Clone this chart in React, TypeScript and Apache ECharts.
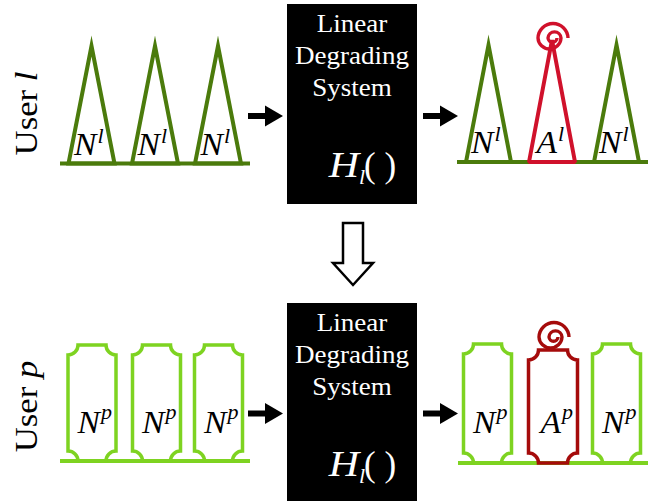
import React, { useEffect, useRef } from "react";
import * as echarts from "echarts";

// ---- content (labels) ----
const userNames = ["l", "p"];
const boxLines = ["Linear", "Degrading", "System"];
const inputMain = ["N", "N", "N"];
const outputMain = ["N", "A", "N"];
const outputAnomaly = [false, true, false];

// ---- layout constants ----
const W = 658;
const H = 501;
const SERIF = "'Liberation Serif', 'Times New Roman', serif";
const DARK_GREEN = "#4b7b0c";
const LIGHT_GREEN = "#7ed321";
const RED = "#d0112b";
const DARK_RED = "#a50b0b";

const topInCenters = [91.5, 155, 218];
const topOutCenters = [488.5, 552, 616.5];
const botInCenters = [92, 156.5, 218.5];
const botOutCenters = [487.5, 553, 616.5];

function scallopPath(w: number, h: number, r: number) {
  return `M ${r} 0 L ${w - r} 0 A ${r} ${r} 0 0 0 ${w} ${r} L ${w} ${h - r} A ${r} ${r} 0 0 0 ${w - r} ${h} L ${r} ${h} A ${r} ${r} 0 0 0 0 ${h - r} L 0 ${r} A ${r} ${r} 0 0 0 ${r} 0 Z`;
}
const spiralD =
  "M 16 1 A 15.01 15.01 0 0 0 -14 1 A 11.51 11.51 0 0 0 9 1 A 6.51 6.51 0 0 0 -4 1 A 4.51 4.51 0 0 0 5 1";

let registered = false;
function registerShapes() {
  if (registered) return;
  registered = true;
  echarts.graphic.registerShape("scallopA", echarts.graphic.extendPath(scallopPath(48, 116, 10), {}));
  echarts.graphic.registerShape("scallopB", echarts.graphic.extendPath(scallopPath(48, 119, 10), {}));
  echarts.graphic.registerShape("scallopC", echarts.graphic.extendPath(scallopPath(49, 113, 10), {}));
  echarts.graphic.registerShape("spiral", echarts.graphic.extendPath(spiralD, {}));
}

function arrow(x0: number, cy: number) {
  return [
    { type: "rect", shape: { x: x0, y: cy - 3, width: 18, height: 6 }, style: { fill: "#000" } },
    {
      type: "polygon",
      shape: { points: [[x0 + 17, cy - 10.5], [x0 + 35, cy], [x0 + 17, cy + 10.5]] },
      style: { fill: "#000" },
    },
  ];
}

function tri(cx: number, apexY: number, baseY: number, halfW: number, color: string, join = "miter") {
  return {
    type: "polygon",
    shape: { points: [[cx, apexY], [cx + halfW, baseY], [cx - halfW, baseY]] },
    style: { fill: "none", stroke: color, lineWidth: 4, lineJoin: join, miterLimit: 12 },
  };
}

function label(cx: number, base: number, main: string, sup: string) {
  const off = sup === "l" ? 5 : 8;
  const split = cx + off;
  const supBase = sup === "l" ? base - 12 : base - 14;
  return [
    {
      type: "text",
      x: split,
      y: base - 0.34 * 32,
      scaleX: 1.05,
      style: {
        text: main, x: 0, y: 0, textAlign: "right", verticalAlign: "middle",
        font: `italic 32px ${SERIF}`, fill: "#000",
      },
    },
    {
      type: "text",
      style: {
        text: sup, x: split + 1, y: supBase - 0.34 * 22, textAlign: "left", verticalAlign: "middle",
        font: `italic 22px ${SERIF}`, fill: "#000",
      },
    },
  ];
}

function box(top: number, height: number) {
  const els: any[] = [
    { type: "rect", shape: { x: 287, y: top, width: 130, height }, style: { fill: "#000" } },
  ];
  boxLines.forEach((t, i) => {
    els.push({
      type: "text",
      x: 352,
      y: top + 28 + i * 32 - 0.34 * 26,
      scaleX: 1.04,
      style: {
        text: t, x: 0, y: 0, textAlign: "center", verticalAlign: "middle",
        font: `26px ${SERIF}`, fill: "#fff",
      },
    });
  });
  const hb = top + 173;
  els.push(
    {
      type: "text",
      x: 359,
      y: hb - 0.34 * 35,
      scaleX: 1.2,
      style: { text: "H", x: 0, y: 0, textAlign: "right", verticalAlign: "middle", font: `italic 35px ${SERIF}`, fill: "#fff" },
    },
    {
      type: "text",
      style: { text: "l", x: 359, y: hb + 7 - 0.34 * 22, textAlign: "left", verticalAlign: "middle", font: `italic 22px ${SERIF}`, fill: "#fff" },
    },
    {
      type: "text",
      style: { text: "( )", x: 364, y: hb - 0.34 * 35, textAlign: "left", verticalAlign: "middle", font: `35px ${SERIF}`, fill: "#fff" },
    }
  );
  return els;
}

function userLabel(name: string, cy: number) {
  return {
    type: "text",
    x: 27,
    y: cy,
    rotation: Math.PI / 2,
    scaleX: 1.12,
    style: {
      text: `{a|User }{b|${name}}`,
      textAlign: "center",
      verticalAlign: "middle",
      rich: {
        a: { fontFamily: SERIF, fontSize: 31, fill: "#000" },
        b: { fontFamily: SERIF, fontSize: 31, fontStyle: "italic", fill: "#000" },
      },
    },
  };
}

function buildElements() {
  const els: any[] = [];
  // user labels
  els.push(userLabel(userNames[0], 113.5));
  els.push(userLabel(userNames[1], 406.5));

  // ---- top row ----
  els.push({ type: "line", shape: { x1: 60, y1: 163.5, x2: 250, y2: 163.5 }, style: { stroke: DARK_GREEN, lineWidth: 4 } });
  topInCenters.forEach((cx, i) => {
    els.push(tri(cx, 46, 163.5, 23, DARK_GREEN));
    els.push(...label(cx, 155, inputMain[i], userNames[0]));
  });
  els.push(...arrow(248, 116));
  els.push(...box(4, 200));
  els.push(...arrow(423, 116));
  els.push({ type: "line", shape: { x1: 457, y1: 162, x2: 648, y2: 162 }, style: { stroke: DARK_GREEN, lineWidth: 4 } });
  topOutCenters.forEach((cx, i) => {
    if (outputAnomaly[i]) {
      els.push(tri(cx, 40, 162, 23, RED, "bevel"));
      els.push({ type: "spiral", x: cx, y: 37, style: { fill: "none", stroke: RED, lineWidth: 3.4 } });
    } else {
      els.push(tri(cx, 45, 162, 22.5, DARK_GREEN));
    }
    els.push(...label(cx, 153, outputMain[i], userNames[0]));
  });

  // down arrow
  els.push({
    type: "polygon",
    shape: { points: [[343, 223], [363, 223], [363, 263], [373, 263], [353, 285], [333, 263], [343, 263]] },
    style: { fill: "#fff", stroke: "#000", lineWidth: 2.5, lineJoin: "miter" },
  });

  // ---- bottom row ----
  els.push({ type: "line", shape: { x1: 60, y1: 461, x2: 250, y2: 461 }, style: { stroke: LIGHT_GREEN, lineWidth: 4 } });
  botInCenters.forEach((cx, i) => {
    els.push({ type: "scallopA", x: cx - 24, y: 345, style: { fill: "none", stroke: LIGHT_GREEN, lineWidth: 3.5 } });
    els.push(...label(cx, 433, inputMain[i], userNames[1]));
  });
  els.push(...arrow(248, 413.5));
  els.push(...box(303, 198));
  els.push(...arrow(423, 413.5));
  els.push({ type: "line", shape: { x1: 458, y1: 463, x2: 648, y2: 463 }, style: { stroke: LIGHT_GREEN, lineWidth: 4 } });
  botOutCenters.forEach((cx, i) => {
    if (outputAnomaly[i]) {
      els.push({ type: "scallopC", x: cx - 24.5, y: 350, style: { fill: "none", stroke: DARK_RED, lineWidth: 3.5 } });
      els.push({ type: "spiral", x: cx, y: 336, style: { fill: "none", stroke: DARK_RED, lineWidth: 3.4 } });
    } else {
      els.push({ type: "scallopB", x: cx - 24, y: 344, style: { fill: "none", stroke: LIGHT_GREEN, lineWidth: 3.5 } });
    }
    els.push(...label(cx, 433, outputMain[i], userNames[1]));
  });
  return els;
}

export default function App() {
  const ref = useRef<HTMLDivElement>(null);
  useEffect(() => {
    if (!ref.current) return;
    registerShapes();
    const chart = echarts.init(ref.current, undefined, { renderer: "svg" });
    chart.setOption({
      animation: false,
      backgroundColor: "#fff",
      graphic: { elements: buildElements() },
    });
    return () => chart.dispose();
  }, []);
  return (
    <div
      ref={ref}
      style={{ position: "absolute", left: 0, top: 0, width: W, height: H, background: "#fff" }}
    />
  );
}
